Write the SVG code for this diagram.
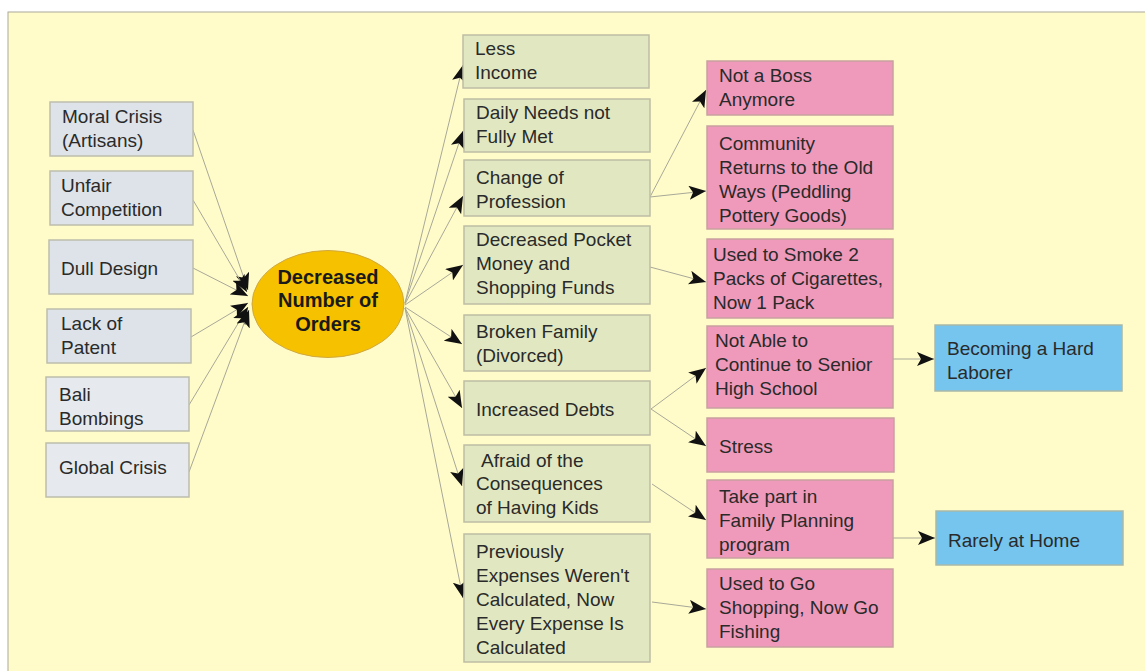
<svg xmlns="http://www.w3.org/2000/svg" width="1145" height="671" viewBox="0 0 1145 671">
<defs>
<marker id="ah" markerUnits="userSpaceOnUse" markerWidth="20" markerHeight="14" refX="17" refY="7" orient="auto">
<path d="M0,0 L17,7 L0,14 L4,7 Z" fill="#111"/>
</marker>
<style>
.t{font-family:"Liberation Sans",Arial,sans-serif;font-size:19px;fill:#2a2a2a}
.b{font-family:"Liberation Sans",Arial,sans-serif;font-size:20px;font-weight:bold;fill:#1a1a1a;text-anchor:middle}
.g{fill:#dde3e9;stroke:#bdbdad;stroke-width:1.5}
.gr{fill:#e1e8c1;stroke:#bdbda5;stroke-width:1.5}
.p{fill:#ef9abb;stroke:#c9a0a0;stroke-width:1.5}
.bl{fill:#75c5ef;stroke:#a8b8a8;stroke-width:1.5}
.c{stroke:#a8a898;stroke-width:1;fill:none;marker-end:url(#ah)}
</style>
</defs>
<rect x="0" y="0" width="1145" height="671" fill="#ffffff"/>
<rect x="8" y="12" width="1145" height="670" fill="#fffcca" stroke="#aaa89a" stroke-width="1"/>

<g id="connectors">
<line class="c" x1="193" y1="130" x2="248" y2="290"/>
<line class="c" x1="193" y1="200" x2="247" y2="292"/>
<line class="c" x1="193" y1="268" x2="248" y2="296"/>
<line class="c" x1="191" y1="337" x2="248" y2="303"/>
<line class="c" x1="189" y1="405" x2="248" y2="307"/>
<line class="c" x1="189" y1="472" x2="249" y2="310"/>
<line class="c" x1="405" y1="303" x2="463" y2="65"/>
<line class="c" x1="405" y1="303" x2="463" y2="131"/>
<line class="c" x1="405" y1="304" x2="463" y2="196"/>
<line class="c" x1="405" y1="305" x2="463" y2="265"/>
<line class="c" x1="405" y1="307" x2="462" y2="344"/>
<line class="c" x1="405" y1="308" x2="462" y2="408"/>
<line class="c" x1="405" y1="308" x2="462" y2="486"/>
<line class="c" x1="405" y1="308" x2="463" y2="598"/>
<line class="c" x1="650" y1="197" x2="706" y2="90"/>
<line class="c" x1="650" y1="197" x2="706" y2="191"/>
<line class="c" x1="650" y1="267" x2="706" y2="282"/>
<line class="c" x1="651" y1="409" x2="706" y2="368"/>
<line class="c" x1="651" y1="409" x2="706" y2="446"/>
<line class="c" x1="652" y1="484" x2="706" y2="520"/>
<line class="c" x1="652" y1="602" x2="706" y2="609"/>
<line class="c" x1="893" y1="359" x2="934" y2="359"/>
<line class="c" x1="893" y1="538" x2="935" y2="538"/>
</g>

<g id="center">
<ellipse cx="328" cy="304" rx="76" ry="53.5" fill="#f6c200" stroke="#d0a840" stroke-width="1"/>
<text class="b" x="328" y="284">Decreased</text>
<text class="b" x="328" y="307">Number of</text>
<text class="b" x="328" y="331">Orders</text>
</g>

<g id="moral"><rect class="g" x="50" y="102" width="143" height="54"/><text class="t" x="62" y="123">Moral Crisis</text><text class="t" x="62" y="147">(Artisans)</text></g>
<g id="unfair"><rect class="g" x="50" y="171" width="143" height="54"/><text class="t" x="61" y="192">Unfair</text><text class="t" x="61" y="216">Competition</text></g>
<g id="dull"><rect class="g" x="49" y="240" width="144" height="54"/><text class="t" x="61" y="275">Dull Design</text></g>
<g id="patent"><rect class="g" x="47" y="309" width="144" height="54"/><text class="t" x="61" y="330">Lack of</text><text class="t" x="61" y="354">Patent</text></g>
<g id="bali"><rect class="g" x="46" y="377" width="143" height="54" style="fill:#e6eaee"/><text class="t" x="59" y="401">Bali</text><text class="t" x="59" y="425">Bombings</text></g>
<g id="global"><rect class="g" x="46" y="443" width="143" height="54" style="fill:#e6eaee"/><text class="t" x="59" y="474">Global Crisis</text></g>

<g id="income"><rect class="gr" x="463" y="35" width="186" height="53"/><text class="t" x="475" y="55">Less</text><text class="t" x="475" y="79">Income</text></g>
<g id="daily"><rect class="gr" x="464" y="99" width="186" height="53"/><text class="t" x="476" y="119">Daily Needs not</text><text class="t" x="476" y="143">Fully Met</text></g>
<g id="profession"><rect class="gr" x="464" y="160" width="186" height="56"/><text class="t" x="476" y="184">Change of</text><text class="t" x="476" y="208">Profession</text></g>
<g id="pocket"><rect class="gr" x="464" y="226" width="186" height="78"/><text class="t" x="476" y="246">Decreased Pocket</text><text class="t" x="476" y="270">Money and</text><text class="t" x="476" y="294">Shopping Funds</text></g>
<g id="broken"><rect class="gr" x="464" y="315" width="186" height="56"/><text class="t" x="476" y="338">Broken Family</text><text class="t" x="476" y="362">(Divorced)</text></g>
<g id="debts"><rect class="gr" x="464" y="381" width="186" height="54"/><text class="t" x="476" y="416">Increased Debts</text></g>
<g id="afraid"><rect class="gr" x="464" y="445" width="186" height="77"/><text class="t" x="481" y="467">Afraid of the</text><text class="t" x="476" y="490">Consequences</text><text class="t" x="476" y="514">of Having Kids</text></g>
<g id="previously"><rect class="gr" x="464" y="534" width="186" height="128"/><text class="t" x="476" y="558">Previously</text><text class="t" x="476" y="582">Expenses Weren't</text><text class="t" x="476" y="606">Calculated, Now</text><text class="t" x="476" y="630">Every Expense Is</text><text class="t" x="476" y="654">Calculated</text></g>

<g id="boss"><rect class="p" x="707" y="61" width="186" height="54"/><text class="t" x="719" y="82">Not a Boss</text><text class="t" x="719" y="106">Anymore</text></g>
<g id="community"><rect class="p" x="707" y="126" width="186" height="103"/><text class="t" x="719" y="150">Community</text><text class="t" x="719" y="174">Returns to the Old</text><text class="t" x="719" y="198">Ways (Peddling</text><text class="t" x="719" y="222">Pottery Goods)</text></g>
<g id="smoke"><rect class="p" x="707" y="239" width="186" height="79"/><text class="t" x="713" y="261">Used to Smoke 2</text><text class="t" x="713" y="285">Packs of Cigarettes,</text><text class="t" x="713" y="309">Now 1 Pack</text></g>
<g id="notable"><rect class="p" x="707" y="326" width="186" height="82"/><text class="t" x="715" y="347">Not Able to</text><text class="t" x="715" y="371">Continue to Senior</text><text class="t" x="715" y="395">High School</text></g>
<g id="stress"><rect class="p" x="707" y="418" width="187" height="54"/><text class="t" x="719" y="453">Stress</text></g>
<g id="planning"><rect class="p" x="707" y="480" width="186" height="78"/><text class="t" x="719" y="503">Take part in</text><text class="t" x="719" y="527">Family Planning</text><text class="t" x="719" y="551">program</text></g>
<g id="fishing"><rect class="p" x="707" y="569" width="186" height="78"/><text class="t" x="719" y="590">Used to Go</text><text class="t" x="719" y="614">Shopping, Now Go</text><text class="t" x="719" y="638">Fishing</text></g>

<g id="laborer"><rect class="bl" x="935" y="325" width="187" height="66"/><text class="t" x="947" y="355">Becoming a Hard</text><text class="t" x="947" y="379">Laborer</text></g>
<g id="home"><rect class="bl" x="936" y="511" width="187" height="54"/><text class="t" x="948" y="547">Rarely at Home</text></g>
</svg>
